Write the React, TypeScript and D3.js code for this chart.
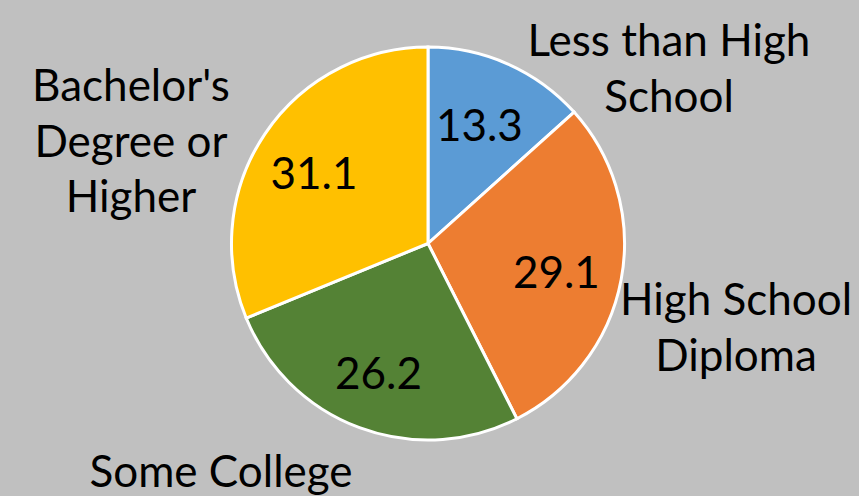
import React from 'react';
import * as d3 from 'd3';

const categories = ['Less than High School', 'High School Diploma', 'Some College', "Bachelor's Degree or Higher"];
const values = [13.3, 29.1, 26.2, 31.1];
const colors = ['#5b9bd5', '#ed7d31', '#548235', '#ffc000'];
// category label text split into lines, as in the original
const labelLines = [['Less than High', 'School'], ['High School', 'Diploma'], ['Some College'], ["Bachelor's", 'Degree or', 'Higher']];

export default function App() {
  const w = 859;
  const h = 496;
  const cx = 428;
  const cy = 243.5;
  const r = 196.5;
  const font = 'Lato, "Open Sans", sans-serif';
  const fs = 44;

  const pie = d3.pie<number>().sort(null).value((d) => d);
  const arcs = pie(values);
  const arc = d3.arc<d3.PieArcDatum<number>>().innerRadius(0).outerRadius(r);
  const labelArc = d3.arc<d3.PieArcDatum<number>>().innerRadius(r * 0.68).outerRadius(r * 0.68);

  // outside label anchor points (center x, first baseline), relative to svg
  const outside = [
    [669, 56],
    [736, 315],
    [221, 487],
    [131, 101],
  ];
  const lineH = 55.5;

  return (
    <div style={{ position: 'fixed', left: 0, top: 0 }}>
      <svg width={w} height={h} style={{ display: 'block', background: '#c0c0c0' }}>
        <g transform={`translate(${cx},${cy})`}>
          {arcs.map((a, i) => (
            <path key={i} d={arc(a) || ''} fill={colors[i]} stroke="#fff" strokeWidth={3} />
          ))}
          {arcs.map((a, i) => {
            const [x, y] = labelArc.centroid(a);
            return (
              <text key={i} x={x - 3} y={y + 3} textAnchor="middle" dominantBaseline="central" fontFamily={font} fontSize={fs} fill="#000">
                {a.data.toFixed(1)}
              </text>
            );
          })}
        </g>
        {categories.map((c, i) => (
          <text key={c} textAnchor="middle" fontFamily={font} fontSize={fs} fill="#000">
            {labelLines[i].map((ln, j) => (
              <tspan key={j} x={outside[i][0]} y={outside[i][1] + j * lineH}>
                {ln}
              </tspan>
            ))}
          </text>
        ))}
      </svg>
    </div>
  );
}
